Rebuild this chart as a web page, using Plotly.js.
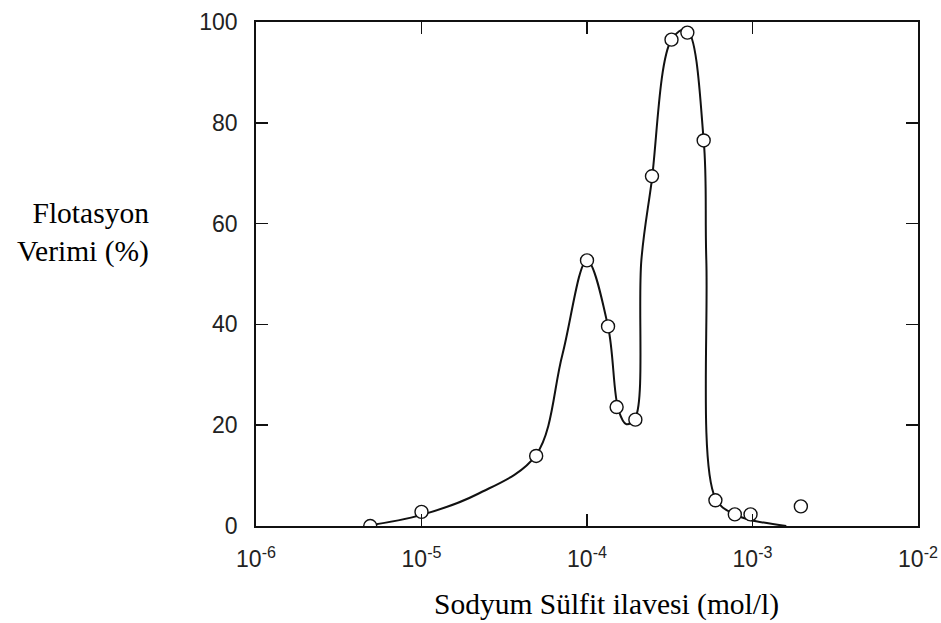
<!DOCTYPE html>
<html>
<head>
<meta charset="utf-8">
<script src="https://cdn.plot.ly/plotly-3.0.1.min.js"></script>
<style>
html,body{margin:0;padding:0;background:#fff;}
#chart{width:941px;height:623px;}
</style>
</head>
<body>
<div id="chart"></div>
<script>
// Measured points (Sodyum Sülfit, mol/l vs Flotasyon Verimi, %)
const pointX = [4.9e-6, 1.0e-5, 4.93e-5, 1.0e-4, 1.34e-4, 1.51e-4, 1.96e-4, 2.47e-4, 3.24e-4, 4.04e-4, 5.07e-4, 5.97e-4, 7.82e-4, 9.73e-4, 1.96e-3];
const pointY = [0, 2.8, 13.9, 52.7, 39.6, 23.6, 21.1, 69.4, 96.5, 97.9, 76.5, 5.1, 2.3, 2.3, 3.9];

// Hand-drawn fitted curve
const curveX = [4.6e-6, 1.0e-5, 2.2e-5, 4.9e-5, 7.1e-5, 1.0e-4, 1.34e-4, 1.55e-4, 1.73e-4, 1.96e-4, 2.13e-4, 2.45e-4, 3.24e-4, 4.0e-4, 5.07e-4, 5.26e-4, 5.97e-4, 7.8e-4, 9.7e-4, 1.6e-3];
const curveY = [0, 2.2, 6.4, 14, 34, 52.7, 39.6, 23, 20.2, 21.5, 52.7, 68, 96.5, 98.5, 76.5, 52.7, 5.5, 2.3, 1.2, 0];

const xTickVals = [1e-6, 1e-5, 1e-4, 1e-3, 1e-2];
const xTickText = ['10<sup>-6</sup>', '10<sup>-5</sup>', '10<sup>-4</sup>', '10<sup>-3</sup>', '10<sup>-2</sup>'];
const yTickVals = [0, 20, 40, 60, 80, 100];
const yTickText = ['0', '20', '40', '60', '80', '100'];

const xTitle = 'Sodyum Sülfit ilavesi (mol/l)';
const yTitle = 'Flotasyon<br>Verimi (%)';

const traces = [
  {
    x: curveX, y: curveY, type: 'scatter', mode: 'lines',
    line: {color: '#111', width: 2, shape: 'spline', smoothing: 1},
    hoverinfo: 'skip', showlegend: false
  },
  {
    x: pointX, y: pointY, type: 'scatter', mode: 'markers',
    marker: {symbol: 'circle', size: 13, color: '#fff', line: {color: '#111', width: 1.4}},
    showlegend: false
  }
];

const tickFont = {family: 'Liberation Sans, Arial, sans-serif', size: 23, color: '#222'};
const titleFont = {family: 'Liberation Serif, Times New Roman, serif', size: 29.5, color: '#000'};

const layout = {
  width: 941, height: 623,
  margin: {l: 256, r: 23, t: 22, b: 97},
  paper_bgcolor: '#fff', plot_bgcolor: '#fff',
  showlegend: false,
  xaxis: {
    type: 'log', range: [-6, -2],
    tickvals: xTickVals, ticktext: xTickText,
    ticks: 'inside', ticklen: 12, tickwidth: 1.5, tickcolor: '#111',
    showline: true, linecolor: '#111', linewidth: 1.8, mirror: 'ticks',
    showgrid: false, zeroline: false,
    tickfont: tickFont, ticklabelstandoff: 12
  },
  yaxis: {
    range: [0, 100],
    tickvals: yTickVals, ticktext: yTickText,
    ticks: 'inside', ticklen: 12, tickwidth: 1.5, tickcolor: '#111',
    showline: true, linecolor: '#111', linewidth: 1.8, mirror: 'ticks',
    showgrid: false, zeroline: false,
    tickfont: tickFont, ticklabelstandoff: 12
  },
  annotations: [
    {
      text: yTitle, xref: 'paper', yref: 'paper',
      x: (151 - 256) / 662, y: 0.583, xanchor: 'right', yanchor: 'middle', align: 'right',
      showarrow: false, font: titleFont
    },
    {
      text: xTitle, xref: 'paper', yref: 'paper',
      x: 0.529, y: -0.155, xanchor: 'center', yanchor: 'middle',
      showarrow: false, font: titleFont
    }
  ]
};

Plotly.newPlot('chart', traces, layout, {displayModeBar: false, staticPlot: true});
</script>
</body>
</html>
